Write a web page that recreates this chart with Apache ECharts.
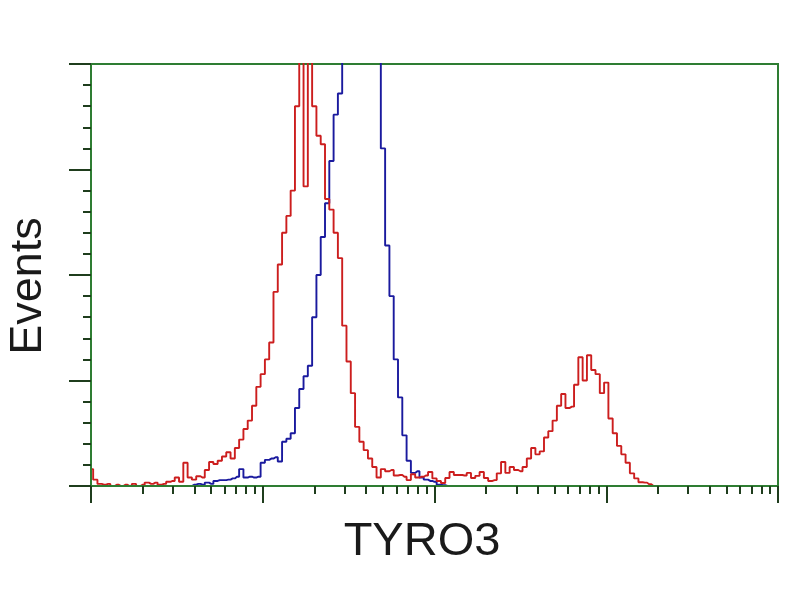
<!DOCTYPE html>
<html><head><meta charset="utf-8">
<script src="https://cdn.jsdelivr.net/npm/echarts@6/dist/echarts.min.js"></script>
<style>html,body{margin:0;padding:0;background:#fff}#c{width:800px;height:600px}</style>
</head><body><div id="c"></div>
<script>
const xAxisTitle = 'TYRO3';
const yAxisTitle = 'Events';
const decades = [1, 10, 100, 1000, 10000];
const minorMultipliers = [2, 3, 4, 5, 6, 7, 8, 9];
const channelsPerDecade = 40;
const totalChannels = 160;
const yMax = 100;

const redCounts = [
  4.0, 1.5, 0.5, 0.3, 0.5, 0, 0.3, 0, 0.3, 0,
  0.5, 0, 0.3, 0.8, 0.5, 0.8, 0.3, 0.5, 1.0, 1.2,
  2.0, 1.0, 5.5, 2.0, 1.5, 2.3, 2.0, 3.8, 5.7, 5.2,
  6.0, 7.0, 8.0, 6.5, 9.0, 11.0, 13.5, 15.5, 19, 23.5,
  26.5, 30, 34, 46, 52.5, 60, 64, 70, 90, 103,
  71, 101, 90, 83, 81, 68, 65.5, 60, 54, 38,
  29.5, 22, 14, 10.5, 8.5, 6.5, 4.5, 2.0, 4.0, 3.5,
  3.8, 2.5, 2.6, 2.2, 1.4, 2.8, 2.0, 2.2, 2.5, 3.3,
  1.8, 1.2, 0.7, 1.9, 3.3, 2.6, 2.6, 2.5, 3.1, 1.9,
  2.4, 3.3, 1.9, 1.2, 1.4, 3.0, 5.7, 3.1, 4.5, 3.8,
  3.5, 4.5, 6.5, 9.0, 7.5, 8.2, 11.5, 13, 15.5, 19,
  21.8, 18.5, 18.8, 24, 30.5, 25, 31, 27.5, 26.5, 22,
  24.5, 16, 12.5, 9.5, 7.5, 5.5, 3.0, 1.8, 0.9, 0.8,
  0.4, 0, 0, 0, 0, 0, 0, 0, 0, 0,
  0, 0, 0, 0, 0, 0, 0, 0, 0, 0,
  0, 0, 0, 0, 0, 0, 0, 0, 0, 0,
  0
];

const blueCounts = [
  0, 0, 0, 0, 0, 0, 0, 0, 0, 0,
  0, 0, 0, 0, 0, 0, 0, 0, 0, 0,
  0, 0, 0, 0, 0.3, 0.5, 0.3, 0.8, 0.5, 1.2,
  1.4, 1.4, 1.5, 1.8, 2.2, 4.0, 2.0, 2.2, 2.0, 2.2,
  5.5, 6.2, 6.5, 6.8, 5.8, 10.5, 11.2, 12.5, 18.5, 23,
  26, 28.5, 40, 50, 59, 67, 77, 88, 93, 110,
  125, 140, 150, 155, 150, 140, 125, 102, 80, 57,
  45, 30, 21, 12, 6, 3.1, 3.5, 2.0, 1.5, 1.2,
  1.0, 0.3, 0.2, 0, 0, 0, 0, 0, 0, 0,
  0, 0, 0, 0, 0, 0, 0, 0, 0, 0,
  0, 0, 0, 0, 0, 0, 0, 0, 0, 0,
  0, 0, 0, 0, 0, 0, 0, 0, 0, 0,
  0, 0, 0, 0, 0, 0, 0, 0, 0, 0,
  0, 0, 0, 0, 0, 0, 0, 0, 0, 0,
  0, 0, 0, 0, 0, 0, 0, 0, 0, 0,
  0, 0, 0, 0, 0, 0, 0, 0, 0, 0,
  0
];

const green = '#2e7d32';
const tickColor = '#1f3d1d';

const majorTickPos = decades.map(d => channelsPerDecade * Math.log10(d));
const minorTickPos = [];
decades.slice(0, -1).forEach(d => minorMultipliers.forEach(m => minorTickPos.push(channelsPerDecade * Math.log10(d * m))));

const toPairs = arr => arr.map((v, i) => [i, v]);

const chart = echarts.init(document.getElementById('c'), null, {renderer: 'canvas'});
chart.setOption({
  animation: false,
  backgroundColor: '#ffffff',
  grid: {left: 91, top: 64, width: 687, height: 422, show: true, borderColor: green, borderWidth: 2, backgroundColor: 'transparent'},
  xAxis: [
    {type: 'value', min: 0, max: totalChannels, position: 'bottom', z: 5,
     axisLine: {show: true, lineStyle: {color: green, width: 2}},
     axisTick: {show: true, inside: false, length: 17, customValues: majorTickPos, lineStyle: {color: tickColor, width: 2}},
     axisLabel: {show: false}, splitLine: {show: false}},
    {type: 'value', min: 0, max: totalChannels, position: 'bottom', z: 5,
     axisLine: {show: false},
     axisTick: {show: true, inside: false, length: 8, customValues: minorTickPos, lineStyle: {color: tickColor, width: 2}},
     axisLabel: {show: false}, splitLine: {show: false}}
  ],
  yAxis: {type: 'value', min: 0, max: yMax, interval: 25, z: 5,
    axisLine: {show: true, lineStyle: {color: green, width: 2}},
    axisTick: {show: true, inside: false, length: 22, lineStyle: {color: tickColor, width: 2}},
    minorTick: {show: true, splitNumber: 5, length: 8, lineStyle: {color: tickColor, width: 2}},
    axisLabel: {show: false}, splitLine: {show: false}, minorSplitLine: {show: false}},
  series: [
    {type: 'line', name: 'control', xAxisIndex: 0, step: 'middle', showSymbol: false, symbol: 'none',
     data: toPairs(blueCounts), lineStyle: {color: '#1a1a9e', width: 1.9}, itemStyle: {color: '#1a1a9e'}, clip: true, z: 2},
    {type: 'line', name: 'TYRO3', xAxisIndex: 0, step: 'middle', showSymbol: false, symbol: 'none',
     data: toPairs(redCounts), lineStyle: {color: '#cc1e1e', width: 1.9}, itemStyle: {color: '#cc1e1e'}, clip: true, z: 3}
  ],
  graphic: [
    {type: 'text', x: 422, y: 542, style: {text: xAxisTitle, font: '47px "Liberation Sans", Arial, sans-serif', fill: '#1a1a1a', textAlign: 'center', textVerticalAlign: 'middle'}},
    {type: 'text', x: 29, y: 286, rotation: Math.PI / 2, style: {text: yAxisTitle, font: '45px "Liberation Sans", Arial, sans-serif', fill: '#1a1a1a', textAlign: 'center', textVerticalAlign: 'middle'}}
  ]
});
</script></body></html>
